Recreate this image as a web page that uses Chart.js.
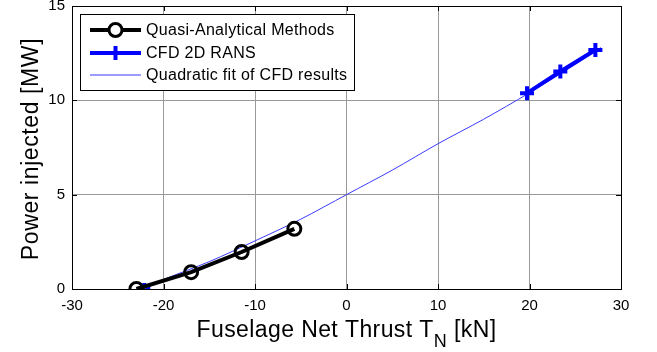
<!DOCTYPE html>
<html>
<head>
<meta charset="utf-8">
<script src="https://cdn.jsdelivr.net/npm/chart.js@4.4.1/dist/chart.umd.min.js"></script>
<style>
  html, body { margin: 0; padding: 0; background: #fff; }
  #wrap { width: 657px; height: 352px; overflow: hidden; }
  /* the top tick label keeps Chart.js from starting the plot higher, so shift the canvas up */
  #chart { display: block; margin-top: -5px; }
</style>
</head>
<body>
<div id="wrap"><canvas id="chart" width="657" height="357"></canvas></div>
<script>
// data
const quasiThrust = [-22.96, -16.98, -11.46, -5.70];
const quasiPower  = [0.00, 0.89, 1.96, 3.19];

const cfdThrust = [-22.1, 19.73, 23.37, 27.2];
const cfdPower  = [0.00, 10.38, 11.53, 12.67];

const fitThrust = [-22.1, -20, -15, -10, -5, 0, 5, 10, 15, 20, 25, 27.8];
const fitPower  = [0.00, 0.50, 1.45, 2.55, 3.70, 5.00, 6.30, 7.70, 9.00, 10.40, 11.90, 12.80];

const xTicks = [-30, -20, -10, 0, 10, 20, 30];
const yTicks = [0, 5, 10, 15];

const labels = ['Quasi-Analytical Methods', 'CFD 2D RANS', 'Quadratic fit of CFD results'];

const FONT = 'Arial, "Liberation Sans", sans-serif';
const SHIFT = 5;  // canvas offset set in the CSS

function toPoints(xs, ys) {
    return xs.map((x, i) => ({ x: x, y: ys[i] }));
}

/* ===============================
   Box, inward ticks, axis titles
================================ */
const framePlugin = {
    id: 'frame',
    afterDatasetsDraw(chart) {
        const { ctx, chartArea: a, scales } = chart;
        ctx.save();
        ctx.strokeStyle = '#000';
        ctx.lineWidth = 1;
        ctx.strokeRect(a.left + 0.5, a.top + 0.5, a.right - a.left, a.bottom - a.top);
        ctx.beginPath();
        xTicks.forEach(v => {
            const px = Math.round(scales.x.getPixelForValue(v)) + 0.5;
            ctx.moveTo(px, a.bottom); ctx.lineTo(px, a.bottom - 5);
            ctx.moveTo(px, a.top); ctx.lineTo(px, a.top + 5);
        });
        yTicks.forEach(v => {
            const py = Math.round(scales.y.getPixelForValue(v)) + 0.5;
            ctx.moveTo(a.left, py); ctx.lineTo(a.left + 5, py);
            ctx.moveTo(a.right, py); ctx.lineTo(a.right - 5, py);
        });
        ctx.stroke();

        // x title with subscript N
        ctx.fillStyle = '#000';
        ctx.textBaseline = 'alphabetic';
        ctx.letterSpacing = '0.4px';
        const big = '23px ' + FONT, small = '18px ' + FONT;
        const p1 = 'Fuselage Net Thrust T', p2 = 'N', p3 = ' [kN]';
        ctx.font = big; const w1 = ctx.measureText(p1).width, w3 = ctx.measureText(p3).width;
        ctx.font = small; const w2 = ctx.measureText(p2).width;
        const cx = (a.left + a.right) / 2;
        const x0 = cx - (w1 + w2 + w3) / 2;
        ctx.font = big; ctx.textAlign = 'left';
        ctx.fillText(p1, x0, 337 + SHIFT);
        ctx.font = small; ctx.fillText(p2, x0 + w1, 347 + SHIFT);
        ctx.font = big; ctx.fillText(p3, x0 + w1 + w2, 337 + SHIFT);

        // y title
        ctx.save();
        ctx.letterSpacing = '0.6px';
        ctx.translate(38, 149 + SHIFT);
        ctx.rotate(-Math.PI / 2);
        ctx.textAlign = 'center';
        ctx.font = big;
        ctx.fillText('Power injected [MW]', 0, 0);
        ctx.restore();
        ctx.restore();
    }
};

/* ===============================
   Legend box inside the plot
================================ */
const legendPlugin = {
    id: 'boxLegend',
    afterDatasetsDraw(chart) {
        const { ctx, chartArea: a } = chart;
        const left = a.left + 8, top = a.top + 8, w = 274, h = 76;
        ctx.save();
        ctx.letterSpacing = '0.3px';
        ctx.fillStyle = '#fff';
        ctx.fillRect(left, top, w, h);
        ctx.strokeStyle = '#000';
        ctx.lineWidth = 1;
        ctx.strokeRect(left + 0.5, top + 0.5, w, h);
        const rows = [top + 16, top + 39, top + 61];
        const x1 = left + 10, x2 = left + 61, xm = (x1 + x2) / 2;
        chart.data.datasets.slice(0, 3).forEach((ds, i) => {
            const y = rows[i];
            ctx.strokeStyle = ds.borderColor;
            ctx.lineWidth = ds.borderWidth;
            ctx.beginPath(); ctx.moveTo(x1, y); ctx.lineTo(x2, y); ctx.stroke();
            if (ds.pointStyle === 'circle') {
                ctx.lineWidth = ds.pointBorderWidth;
                ctx.fillStyle = '#fff';
                ctx.beginPath(); ctx.arc(xm, y, ds.pointRadius, 0, Math.PI * 2); ctx.fill(); ctx.stroke();
            } else if (ds.pointStyle === 'cross') {
                ctx.lineWidth = ds.pointBorderWidth;
                ctx.beginPath();
                ctx.moveTo(xm - ds.pointRadius, y); ctx.lineTo(xm + ds.pointRadius, y);
                ctx.moveTo(xm, y - ds.pointRadius); ctx.lineTo(xm, y + ds.pointRadius);
                ctx.stroke();
            }
            ctx.fillStyle = '#000';
            ctx.font = '16px ' + FONT;
            ctx.textBaseline = 'middle';
            ctx.textAlign = 'left';
            ctx.fillText(ds.label, left + 66, y + 1);
        });
        ctx.restore();
    }
};

new Chart(document.getElementById('chart'), {
    type: 'scatter',
    data: {
        datasets: [
            {
                label: labels[0],
                data: toPoints(quasiThrust, quasiPower),
                showLine: true,
                borderColor: '#000',
                borderWidth: 4,
                pointStyle: 'circle',
                pointRadius: 6.5,
                pointBorderWidth: 3,
                pointBackgroundColor: 'rgba(255,255,255,0)',
                pointBorderColor: '#000'
            },
            {
                label: labels[1],
                data: toPoints(cfdThrust.slice(1), cfdPower.slice(1)),
                showLine: true,
                borderColor: '#0000ff',
                borderWidth: 4,
                pointStyle: 'cross',
                pointRadius: 7,
                pointBorderWidth: 4,
                pointBorderColor: '#0000ff'
            },
            {
                label: labels[2],
                data: toPoints(fitThrust, fitPower),
                showLine: true,
                borderColor: '#3b3bff',
                borderWidth: 1,
                pointRadius: 0,
                tension: 0.3
            },
            {
                // lone CFD point at the start of the fit
                label: '',
                data: toPoints(cfdThrust.slice(0, 1), cfdPower.slice(0, 1)),
                showLine: false,
                pointStyle: 'cross',
                pointRadius: 6,
                pointBorderWidth: 4,
                pointBorderColor: '#0000ff',
                borderColor: '#0000ff'
            }
        ]
    },
    options: {
        responsive: false,
        animation: false,
        layout: { padding: { left: 0, top: 0, right: 36, bottom: 0 } },
        plugins: { legend: { display: false }, tooltip: { enabled: false } },
        scales: {
            x: {
                type: 'linear',
                min: -30, max: 30,
                afterFit(scale) {
                    scale.height = 63;
                    scale.paddingLeft = 0; scale.paddingRight = 0;
                },
                afterBuildTicks(scale) { scale.ticks = xTicks.map(v => ({ value: v })); },
                grid: { color: '#999', borderDash: [1, 2], drawTicks: false },
                border: { display: false },
                ticks: { color: '#000', padding: 8, maxRotation: 0, font: { family: FONT, size: 15 } }
            },
            y: {
                type: 'linear',
                min: 0, max: 15,
                afterFit(scale) { scale.width = 72; },
                afterBuildTicks(scale) { scale.ticks = yTicks.map(v => ({ value: v })); },
                grid: { color: '#999', borderDash: [1, 2], drawTicks: true, tickLength: 7, tickColor: 'rgba(0,0,0,0)' },
                border: { display: false },
                ticks: { color: '#000', padding: 0, font: { family: FONT, size: 15 } }
            }
        }
    },
    plugins: [framePlugin, legendPlugin]
});
</script>
</body>
</html>
